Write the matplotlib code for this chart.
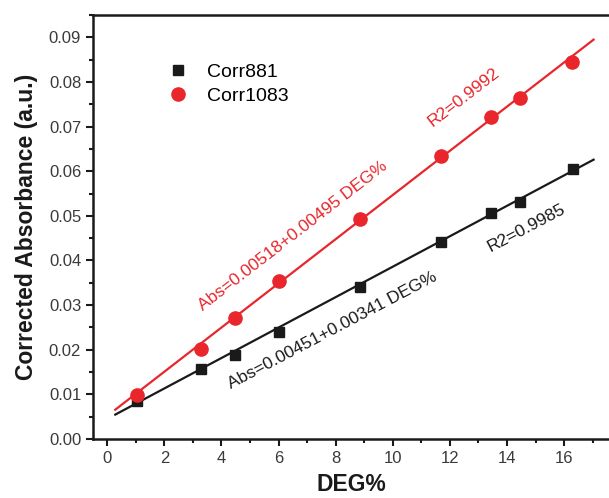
import numpy as np
import matplotlib.pyplot as plt
from matplotlib.ticker import MultipleLocator

plt.rcParams['font.family'] = ['Liberation Sans', 'DejaVu Sans']

# measured points
deg_1083 = [1.05, 3.29, 4.48, 6.0, 8.86, 11.69, 13.43, 14.46, 16.27]
abs_1083 = [0.0099, 0.0201, 0.0272, 0.0355, 0.0493, 0.0634, 0.0721, 0.0763, 0.0845]
deg_881 = [1.05, 3.29, 4.48, 6.0, 8.86, 11.69, 13.43, 14.46, 16.3]
abs_881 = [0.0086, 0.0157, 0.0189, 0.0239, 0.0340, 0.0442, 0.0506, 0.0532, 0.0604]

# linear fits: (intercept, slope)
fit_1083 = (0.00518, 0.00495)
fit_881 = (0.00451, 0.00341)
fit_range = [0.28, 17.03]

red = '#e8262b'
black = '#1a1a1a'

fig = plt.figure(figsize=(6.09, 4.98), dpi=100)
ax = fig.add_axes([0.1527, 0.1185, 0.8473, 0.8514])

xf = np.array(fit_range)
ax.plot(xf, fit_881[0] + fit_881[1] * xf, color=black, lw=1.6, zorder=2)
ax.plot(xf, fit_1083[0] + fit_1083[1] * xf, color=red, lw=1.6, zorder=2)
ax.plot(deg_881, abs_881, 's', color=black, ms=7.5, label='Corr881', zorder=3)
ax.plot(deg_1083, abs_1083, 'o', color=red, ms=9.5, label='Corr1083', zorder=3)

ax.set_xlim(-0.5, 17.57)
ax.set_ylim(0, 0.095)
ax.xaxis.set_major_locator(MultipleLocator(2))
ax.xaxis.set_minor_locator(MultipleLocator(1))
ax.yaxis.set_major_locator(MultipleLocator(0.01))
ax.yaxis.set_minor_locator(MultipleLocator(0.005))
ax.yaxis.set_major_formatter(plt.FuncFormatter(lambda v, p: f'{v:.2f}'))
ax.tick_params(which='major', direction='out', length=5, width=1.5,
               labelsize=12, labelcolor='#3a3a3a', color=black)
ax.tick_params(which='minor', direction='out', length=3, width=1.5, color=black)
ax.spines['right'].set_visible(False)
for s in ['left', 'bottom', 'top']:
    ax.spines[s].set_linewidth(1.8)
    ax.spines[s].set_color(black)

ax.set_xlabel('DEG%', fontsize=16.5, fontweight='bold', color=black, labelpad=5)
ax.set_ylabel('Corrected Absorbance (a.u.)', fontsize=16.5, fontweight='bold',
              color=black, labelpad=8)

ax.legend(loc='upper left', bbox_to_anchor=(0.12, 0.905), frameon=False,
          fontsize=14, handletextpad=0.7, labelspacing=0.35, borderaxespad=0,
          handlelength=1.6)

ax.text(6.51, 0.0455, 'Abs=0.00518+0.00495 DEG%', color=red, fontsize=12.5,
        rotation=37.7, rotation_mode='anchor', ha='center', va='center')
ax.text(12.5, 0.0766, 'R2=0.9992', color=red, fontsize=12.5,
        rotation=37.7, rotation_mode='anchor', ha='center', va='center')
ax.text(7.87, 0.0243, 'Abs=0.00451+0.00341 DEG%', color=black, fontsize=12.5,
        rotation=27.8, rotation_mode='anchor', ha='center', va='center')
ax.text(14.67, 0.0473, 'R2=0.9985', color=black, fontsize=12.5,
        rotation=27.8, rotation_mode='anchor', ha='center', va='center')

fig.savefig('out.png', dpi=100)
